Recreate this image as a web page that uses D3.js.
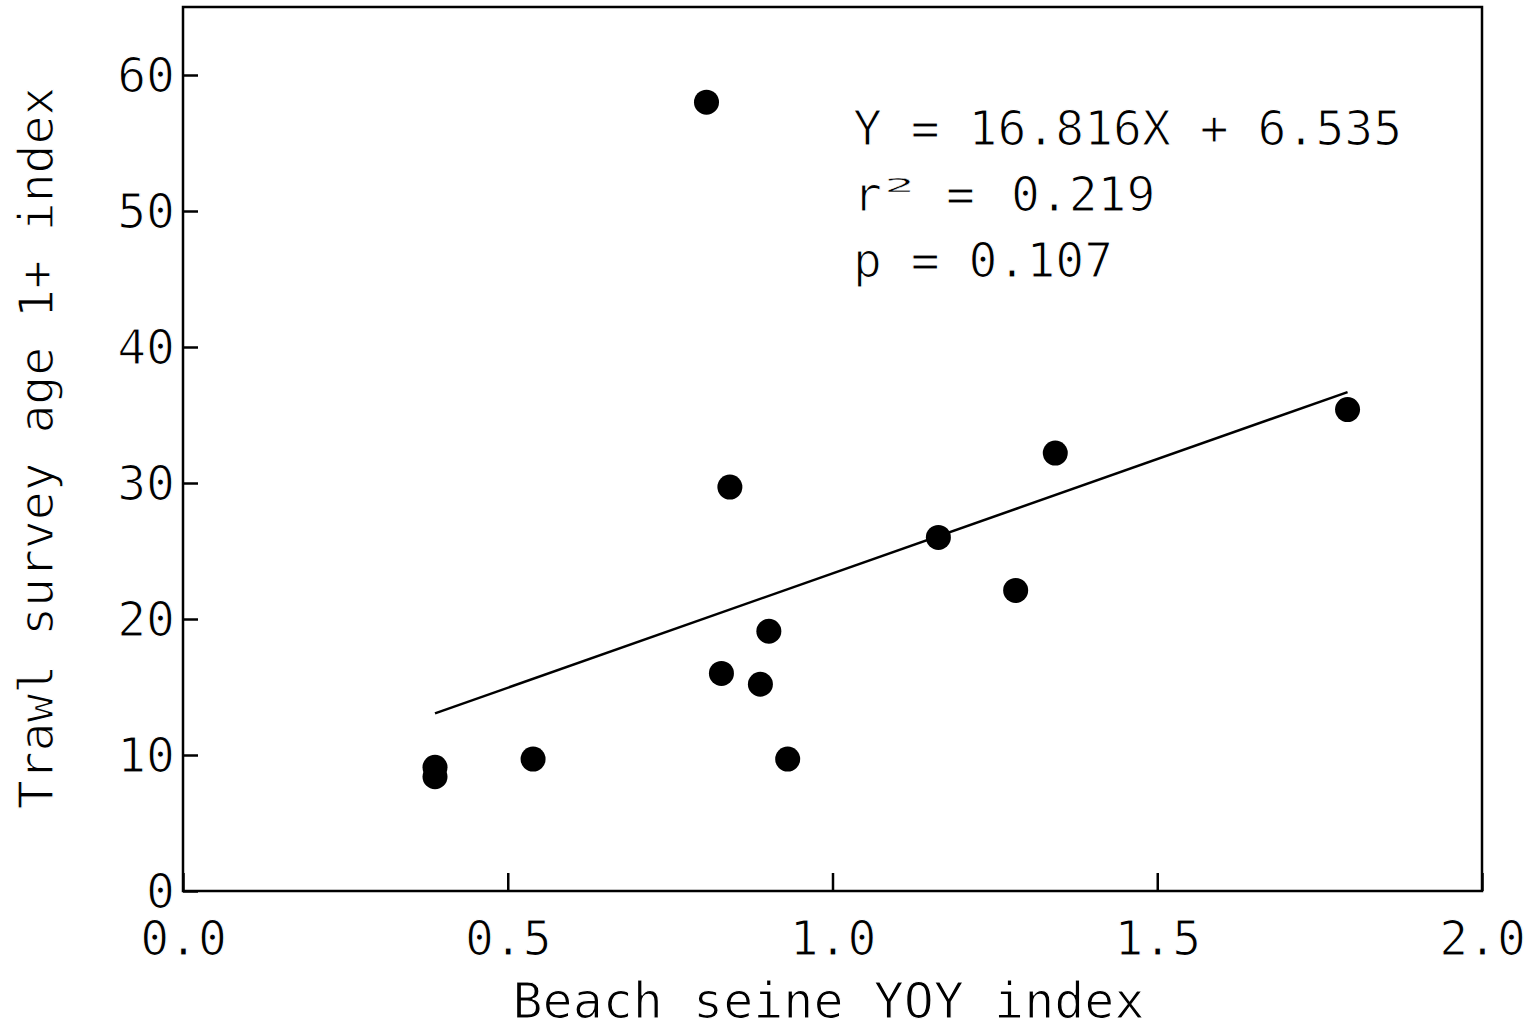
<!DOCTYPE html>
<html>
<head>
<meta charset="utf-8">
<script src="https://cdn.jsdelivr.net/npm/d3@7"></script>
<style>
  html, body { margin: 0; padding: 0; background: #fff; }
  text { font-family: "DejaVu Sans Mono", "Liberation Mono", monospace; fill: #000; stroke: #fff; stroke-width: 1.2px; }
</style>
</head>
<body>
<div id="chart"></div>
<script>
// beach seine YOY index vs trawl survey age 1+ index
const seineIndex = [0.388, 0.388, 0.539, 0.806, 0.829, 0.842, 0.889, 0.902, 0.931, 1.163, 1.282, 1.343, 1.793];
const trawlIndex = [9.1, 8.4, 9.7, 58.0, 16.0, 29.7, 15.2, 19.1, 9.7, 26.0, 22.1, 32.2, 35.4];

const fitSlope = 16.816;
const fitIntercept = 6.535;
const fitLabels = ["16.816X + 6.535", "0.219", "0.107"];

const xTicks = [0.0, 0.5, 1.0, 1.5, 2.0];
const yTicks = [0, 10, 20, 30, 40, 50, 60];

const width = 1531;
const height = 1030;
const plotLeft = 183, plotRight = 1482, plotTop = 7, plotBottom = 891;

const svg = d3.select("#chart")
  .append("svg")
  .attr("width", width)
  .attr("height", height);

const x = d3.scaleLinear().domain([0, 2]).range([plotLeft, plotRight]);
const y = d3.scaleLinear().domain([0, 65]).range([plotBottom, plotTop]);

// frame
svg.append("rect")
  .attr("x", plotLeft)
  .attr("y", plotTop)
  .attr("width", plotRight - plotLeft)
  .attr("height", plotBottom - plotTop)
  .attr("fill", "none")
  .attr("stroke", "#000")
  .attr("stroke-width", 2.5);

// y axis, ticks pointing inward
const yAxis = svg.append("g")
  .attr("transform", "translate(" + plotLeft + ",0)")
  .call(d3.axisLeft(y).tickValues(yTicks).tickSizeInner(-15).tickSizeOuter(0).tickFormat(d3.format("d")));
yAxis.select(".domain").remove();
yAxis.selectAll("line").attr("stroke", "#000").attr("stroke-width", 2.5);
yAxis.selectAll("text")
  .attr("font-size", 48)
  .attr("font-family", "DejaVu Sans Mono")
  .attr("dy", "0.34em")
  .attr("x", -8);

// x axis, ticks pointing inward
const xAxis = svg.append("g")
  .attr("transform", "translate(0," + plotBottom + ")")
  .call(d3.axisBottom(x).tickValues(xTicks).tickSizeInner(-18).tickSizeOuter(0).tickFormat(d3.format(".1f")));
xAxis.select(".domain").remove();
xAxis.selectAll("line").attr("stroke", "#000").attr("stroke-width", 2.5);
xAxis.selectAll("text")
  .attr("font-size", 48)
  .attr("font-family", "DejaVu Sans Mono")
  .attr("y", 64)
  .attr("dy", 0);

// regression line over the data range
const xMin = d3.min(seineIndex), xMax = d3.max(seineIndex);
svg.append("line")
  .attr("x1", x(xMin))
  .attr("y1", y(fitSlope * xMin + fitIntercept))
  .attr("x2", x(xMax))
  .attr("y2", y(fitSlope * xMax + fitIntercept))
  .attr("stroke", "#000")
  .attr("stroke-width", 2.5);

// points
svg.append("g")
  .selectAll("circle")
  .data(seineIndex.map((v, i) => ({ x: v, y: trawlIndex[i] })))
  .enter()
  .append("circle")
  .attr("cx", (d) => x(d.x))
  .attr("cy", (d) => y(d.y))
  .attr("r", 12.5)
  .attr("fill", "#000");

// regression annotation
const note = svg.append("g").attr("font-size", 48);
note.append("text")
  .attr("x", 853)
  .attr("y", 145)
  .attr("xml:space", "preserve")
  .text("Y = " + fitLabels[0]);
note.append("text")
  .attr("x", 853)
  .attr("y", 211)
  .text("r");
// squat superscript 2, as in the original
note.append("text")
  .attr("transform", "translate(884,192) scale(1.6,0.6)")
  .attr("font-size", 32)
  .style("stroke-width", "0.7px")
  .text("2");
const r2 = note.append("text")
  .attr("x", 946)
  .attr("y", 211)
  .attr("xml:space", "preserve");
r2.append("tspan").text("=");
r2.append("tspan").attr("dx", 36).text(fitLabels[1]);
note.append("text")
  .attr("x", 853)
  .attr("y", 277)
  .attr("xml:space", "preserve")
  .text("p = " + fitLabels[2]);

// axis titles
svg.append("text")
  .attr("x", (plotLeft + plotRight) / 2 - 4)
  .attr("y", 1018)
  .attr("text-anchor", "middle")
  .attr("font-size", 50)
  .attr("xml:space", "preserve")
  .text("Beach seine YOY index");

svg.append("text")
  .attr("transform", "translate(53," + 448 + ") rotate(-90)")
  .attr("text-anchor", "middle")
  .attr("font-size", 48)
  .attr("xml:space", "preserve")
  .text("Trawl survey age 1+ index");
</script>
</body>
</html>
